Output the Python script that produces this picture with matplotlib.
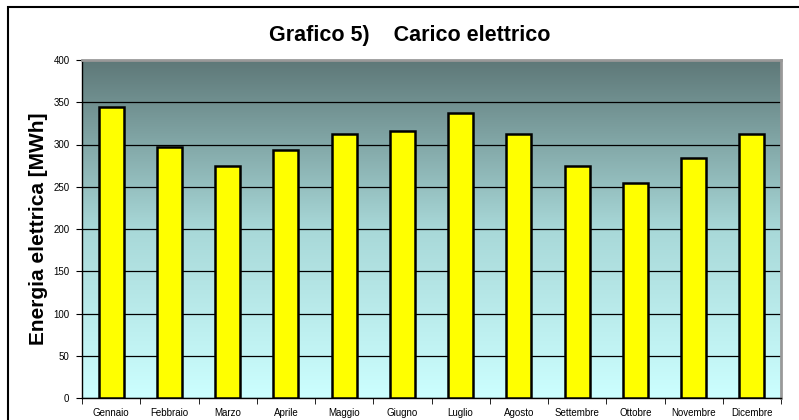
import numpy as np
import matplotlib.pyplot as plt
from matplotlib.colors import LinearSegmentedColormap
from matplotlib.patches import Rectangle

plt.rcParams['font.family'] = ['Liberation Sans', 'DejaVu Sans']

mesi = ['Gennaio', 'Febbraio', 'Marzo', 'Aprile', 'Maggio', 'Giugno',
        'Luglio', 'Agosto', 'Settembre', 'Ottobre', 'Novembre', 'Dicembre']
energia = [344, 297, 275, 293, 313, 316, 337, 313, 275, 255, 284, 312]

fig = plt.figure(figsize=(7.99, 4.2), dpi=100)
ax = fig.add_axes([82/799, 1-398/420, 699/799, 338/420])

# sfondo sfumato
cmap = LinearSegmentedColormap.from_list('sfondo', ['#ccffff', '#a8d8d8', '#5e7878'])
grad = np.linspace(0, 1, 256).reshape(-1, 1)
ax.imshow(grad, aspect='auto', cmap=cmap, origin='lower',
          extent=[0, 1, 0, 1], transform=ax.transAxes, zorder=0)

x = np.arange(len(mesi))
ax.bar(x, energia, width=0.43, color='#ffff00', edgecolor='black',
       linewidth=1.8, zorder=3)

ax.set_xlim(-0.5, len(mesi)-0.5)
ax.set_ylim(0, 400)
ax.set_yticks(range(0, 401, 50))
ax.yaxis.grid(True, color='black', linewidth=0.9, zorder=1)
ax.set_axisbelow(True)

ax.set_xticks(x)
ax.set_xticklabels(mesi, fontsize=7)
ax.set_xticks(np.arange(-0.5, len(mesi)), minor=True)
ax.tick_params(axis='x', which='major', length=0, pad=7)
ax.tick_params(axis='x', which='minor', length=4, direction='out')
ax.tick_params(axis='y', labelsize=7, length=4, direction='out', pad=5)

for s in ['top', 'right']:
    ax.spines[s].set_color('#999999')
    ax.spines[s].set_linewidth(2)
for s in ['left', 'bottom']:
    ax.spines[s].set_color('black')
    ax.spines[s].set_linewidth(1)

ax.set_ylabel('Energia elettrica [MWh]', fontsize=15, fontweight='bold', labelpad=4)
fig.text(410/799, 1-35/420, 'Grafico 5)    Carico elettrico', fontsize=15.5,
         fontweight='bold', ha='center', va='center')

# cornice
fig.patches.append(Rectangle((8/799, -0.1), 1.1, 1.1-7/420, transform=fig.transFigure,
                             fill=False, edgecolor='black', linewidth=1.5))

fig.savefig('out.png', dpi=100)
